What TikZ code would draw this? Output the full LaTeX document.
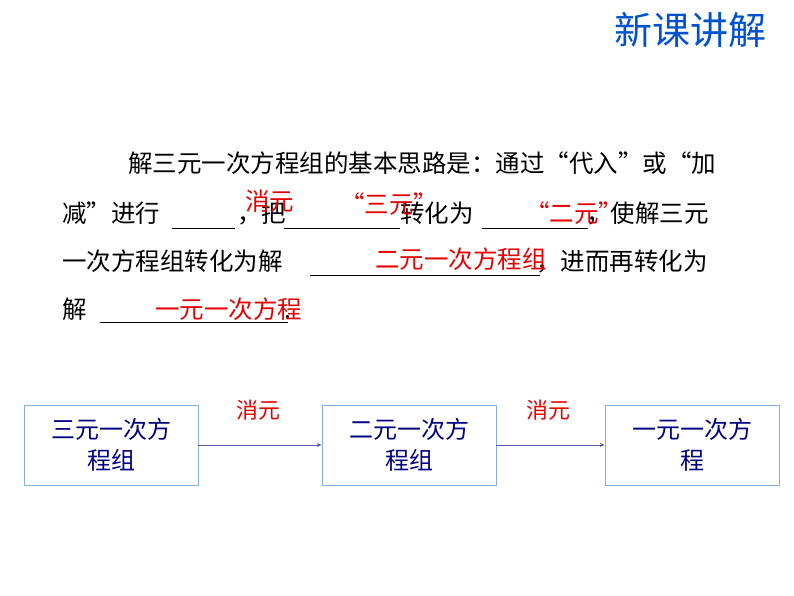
\documentclass[tikz,border=0pt]{standalone}
\usepackage{fontspec}
\usetikzlibrary{arrows.meta}
\setmainfont{Noto Sans CJK SC}
\tikzset{x=1pt,y=-1pt,
 blk/.style={anchor=base west,inner sep=0,font=\fontsize{24.5}{24.5}\selectfont},
 red/.style={blk,text=red!90!black},
 blank/.style={draw=black,line width=0.8pt},
 fbox/.style={draw=cyan!60!blue!50,line width=0.8pt,minimum width=174,minimum height=80,align=center,text=blue!50!black,font=\fontsize{24}{31}\selectfont,inner sep=0},
 arr/.style={draw=blue!30!gray,line width=0.6pt,-{Stealth[length=5pt,width=4pt]}},
 lab/.style={text=red!90!black,font=\fontsize{22}{22}\selectfont}}
\begin{document}
\begin{tikzpicture}
\useasboundingbox (0,0) rectangle (794,596);
\node[font=\fontsize{38}{38}\selectfont,text=blue!60!cyan!80!black] (title) at (690,30) {新课讲解};
\node[blk] (l1) at (128,172) {解三元一次方程组的基本思路是：通过“代入”或“加};
\node[blk] (l2a) at (62,222) {减”进行};
\draw[blank] (172,228) -- (235,228);
\node[blk] (l2b) at (237,222) {，把};
\draw[blank] (284,228) -- (400,228);
\node[blk] (l2c) at (400,222) {转化为};
\draw[blank] (482,228) -- (588,228);
\node[blk] (l2d) at (586,222) {，使解三元};
\node[red] (r1) at (245,210) {消元};
\node[red] (r2) at (340,213) {“三元”};
\node[red] (r3) at (525,222) {“二元”};
\node[blk] (l3a) at (62,270) {一次方程组转化为解};
\draw[blank] (310,275) -- (540,275);
\node[blk] (l3b) at (536,270) {，进而再转化为};
\node[red] (r4) at (375,268) {二元一次方程组};
\node[blk] (l4a) at (62,318) {解};
\draw[blank] (100,322) -- (288,322);
\node[blk] (l4b) at (284,318) {.};
\node[red] (r5) at (155,318) {一元一次方程};
\node[fbox] (b1) at (111,445) {三元一次方\\程组};
\node[fbox] (b2) at (409,445) {二元一次方\\程组};
\node[fbox] (b3) at (692,445) {一元一次方\\程};
\draw[arr] (b1) -- (b2);
\draw[arr] (b2) -- (b3);
\node[lab] (m1) at (258,410) {消元};
\node[lab] (m2) at (548,410) {消元};
\end{tikzpicture}
\end{document}
